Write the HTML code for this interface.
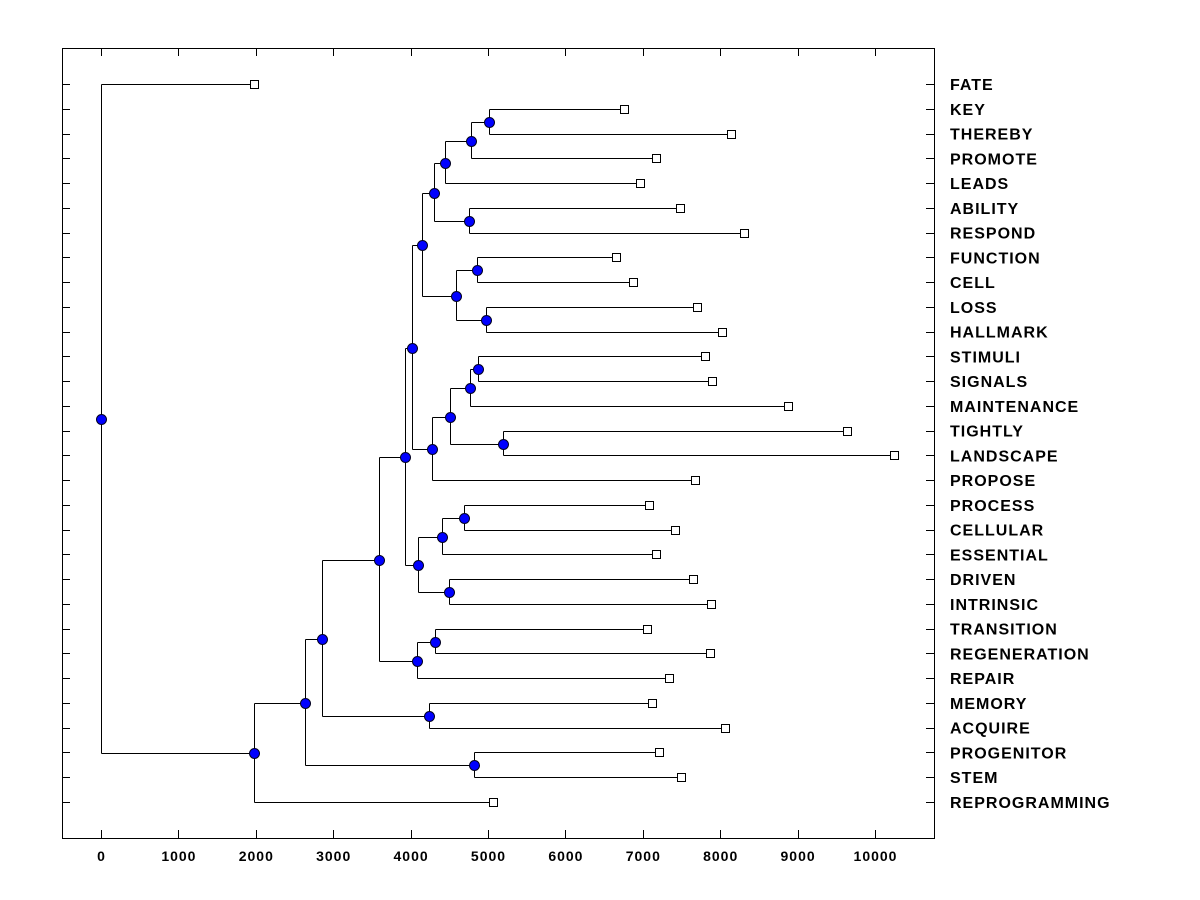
<!DOCTYPE html>
<html><head><meta charset="utf-8"><style>
html,body{margin:0;padding:0;background:#fff;}
svg{display:block;font-family:"Liberation Sans",Arial,sans-serif;}
</style></head><body>
<svg id="chart" width="1200" height="900" viewBox="0 0 1200 900" xmlns="http://www.w3.org/2000/svg">
<rect x="0" y="0" width="1200" height="900" fill="#fff"/>
<g id="ticks"></g>
<g id="tree"></g>
<g id="labels"></g>
<rect x="62.5" y="48.5" width="872" height="790" fill="none" stroke="#000" stroke-width="1"/>
</svg>
<script>
const leafNames = ["FATE","KEY","THEREBY","PROMOTE","LEADS","ABILITY","RESPOND","FUNCTION","CELL","LOSS","HALLMARK","STIMULI","SIGNALS","MAINTENANCE","TIGHTLY","LANDSCAPE","PROPOSE","PROCESS","CELLULAR","ESSENTIAL","DRIVEN","INTRINSIC","TRANSITION","REGENERATION","REPAIR","MEMORY","ACQUIRE","PROGENITOR","STEM","REPROGRAMMING"];
const leafValues = [1977,6757,8140,7171,6964,7481,8307,6654,6873,7700,8023,7804,7894,8876,9638,10245,7674,7080,7416,7171,7649,7881,7054,7868,7339,7119,8062,7209,7494,5065];
const mergeChildren = [
 ["L1","L2"],["N0","L3"],["N1","L4"],["L5","L6"],["N2","N3"],
 ["L7","L8"],["L9","L10"],["N5","N6"],["N4","N7"],
 ["L11","L12"],["N9","L13"],["L14","L15"],["N10","N11"],["N12","L16"],["N8","N13"],
 ["L17","L18"],["N15","L19"],["L20","L21"],["N16","N17"],["N14","N18"],
 ["L22","L23"],["N20","L24"],["N19","N21"],["L25","L26"],["N22","N23"],
 ["L27","L28"],["N24","N25"],["N26","L29"],["L0","N27"]
];
const mergeHeights = [5013,4780,4444,4755,4302,4858,4974,4587,4147,4871,4767,5194,4509,4276,4018,4690,4406,4496,4096,3928,4315,4083,3592,4238,2855,4819,2636,1977,0];
const xTicks = [0,1000,2000,3000,4000,5000,6000,7000,8000,9000,10000];

const NS="http://www.w3.org/2000/svg";
const X0=101, XS=77.4/1000, Y0=84, YS=(802-84)/29;
function xs(v){return X0+v*XS;}
function ys(i){return Y0+i*YS;}
function px(v){return Math.round(v)+0.5;}
function mk(tag,attrs,parent){const e=document.createElementNS(NS,tag);for(const k in attrs)e.setAttribute(k,attrs[k]);parent.appendChild(e);return e;}
const gT=document.getElementById('ticks'), gR=document.getElementById('tree'), gL=document.getElementById('labels');

xTicks.forEach(t=>{
  const x=px(xs(t));
  const a=mk('line',{x1:x,x2:x,y1:830,y2:838,stroke:'#000'},gT);
  
  
  const b=mk('line',{x1:x,x2:x,y1:48,y2:56,stroke:'#000'},gT);
  
  
  const tx=mk('text',{x:xs(t)+0.5,y:861,'text-anchor':'middle','font-size':'14','font-weight':'bold','letter-spacing':'1',fill:'#000'},gT);
  tx.textContent=t;
  
  
});
leafNames.forEach((n,i)=>{
  const y=px(ys(i));
  const a=mk('line',{x1:62,x2:70,y1:y,y2:y,stroke:'#000'},gT);
  
  
  const b=mk('line',{x1:926,x2:934,y1:y,y2:y,stroke:'#000'},gT);
  
  
  const t=mk('text',{x:950,y:ys(i)+6,'font-size':'16','font-weight':'bold','letter-spacing':'1',fill:'#000'},gL);
  t.textContent=n;
  
  
});

const pos={};
leafNames.forEach((n,i)=>{pos['L'+i]={x:px(xs(leafValues[i])),y:px(ys(i))};});
const circles=[];
mergeChildren.forEach((c,k)=>{
  const pxx=px(xs(mergeHeights[k]));
  const a=pos[c[0]], b=pos[c[1]];
  const py=px((a.y+b.y)/2);
  pos['N'+k]={x:pxx,y:py};
  const v=mk('line',{x1:pxx,x2:pxx,y1:a.y,y2:b.y,stroke:'#000'},gR);
  
  
  [a,b].forEach(ch=>{
    const h=mk('line',{x1:pxx,x2:ch.x,y1:ch.y,y2:ch.y,stroke:'#000'},gR);
    
    
  });
  circles.push([pxx,py]);
});
leafNames.forEach((n,i)=>{
  const p=pos['L'+i];
  const r=mk('rect',{x:p.x-4,y:p.y-4,width:8,height:8,fill:'#fff',stroke:'#000'},gR);
  
  
});
circles.forEach(p=>{
  const c=mk('circle',{cx:p[0],cy:p[1],r:5,fill:'#0000ff',stroke:'#000022','stroke-width':1},gR);
  
  
});
</script>
</body></html>
